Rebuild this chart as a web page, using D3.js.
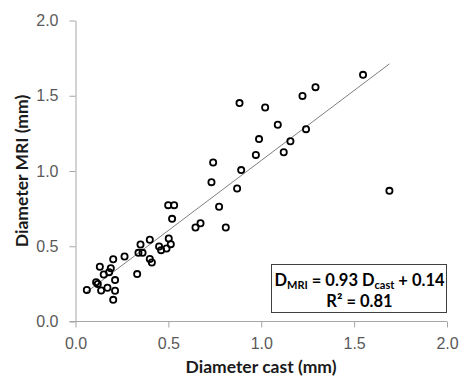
<!DOCTYPE html>
<html>
<head>
<meta charset="utf-8">
<script src="https://cdn.jsdelivr.net/npm/d3@7"></script>
<style>
  body { margin: 0; background: #fff; }
  svg { font-family: Lato, "Open Sans", sans-serif; }
</style>
</head>
<body>
<svg id="chart" width="460" height="377"></svg>
<script>
// values
const castDiameter = [
  0.061, 0.111, 0.120, 0.131, 0.138, 0.152, 0.172, 0.181, 0.190, 0.203,
  0.203, 0.213, 0.213, 0.264, 0.332, 0.339, 0.350, 0.361, 0.400, 0.400,
  0.411, 0.450, 0.461, 0.490, 0.502, 0.513, 0.499, 0.531, 0.520, 0.646,
  0.673, 0.732, 0.741, 0.773, 0.809, 0.870, 0.883, 0.892, 0.971, 0.988,
  1.021, 1.089, 1.121, 1.157, 1.222, 1.241, 1.292, 1.548, 1.690
];
const mriDiameter = [
  0.210, 0.261, 0.250, 0.364, 0.206, 0.312, 0.224, 0.328, 0.354, 0.414,
  0.144, 0.275, 0.204, 0.432, 0.315, 0.456, 0.512, 0.456, 0.543, 0.416,
  0.392, 0.498, 0.474, 0.485, 0.551, 0.514, 0.773, 0.773, 0.682, 0.625,
  0.653, 0.926, 1.056, 0.762, 0.625, 0.884, 1.451, 1.006, 1.107, 1.212,
  1.422, 1.307, 1.125, 1.198, 1.499, 1.278, 1.557, 1.639, 0.868
];
const xTicks = [0, 0.5, 1.0, 1.5, 2.0];
const yTicks = [0, 0.5, 1.0, 1.5, 2.0];
const fitSlope = 0.93;
const fitIntercept = 0.14;
const rSquared = 0.81;

const svg = d3.select('#chart');

const x = d3.scaleLinear().domain([0, 2]).range([75.5, 447]);
const y = d3.scaleLinear().domain([0, 2]).range([321.5, 20.5]);

const axisColor = '#a6a6a6';
const labelColor = '#595959';

// x axis
const xAxis = svg
  .append('g')
  .attr('transform', `translate(0,${y(0)})`)
  .call(d3.axisBottom(x).tickValues(xTicks).tickFormat(d3.format('.1f')).tickSize(6).tickSizeOuter(0).tickPadding(10));
xAxis.select('.domain').attr('stroke', axisColor).attr('d', `M${x(0) - 6},0H${x(2)}`);
xAxis.selectAll('.tick line').attr('stroke', axisColor);
xAxis.selectAll('.tick text').attr('fill', labelColor).attr('font-size', 16);

// y axis
const yAxis = svg
  .append('g')
  .attr('transform', `translate(${x(0)},0)`)
  .call(d3.axisLeft(y).tickValues(yTicks).tickFormat(d3.format('.1f')).tickSize(6).tickSizeOuter(0).tickPadding(11));
yAxis.select('.domain').attr('stroke', axisColor);
yAxis.selectAll('.tick line').attr('stroke', axisColor);
yAxis.selectAll('.tick text').attr('fill', labelColor).attr('font-size', 16);

// axis titles
svg
  .append('text')
  .attr('x', 261)
  .attr('y', 373)
  .attr('text-anchor', 'middle')
  .attr('font-size', 17.5)
  .attr('font-weight', 'bold')
  .attr('fill', '#1a1a1a')
  .text('Diameter cast (mm)');

svg
  .append('text')
  .attr('transform', `translate(27.5,171) rotate(-90)`)
  .attr('text-anchor', 'middle')
  .attr('font-size', 17.5)
  .attr('font-weight', 'bold')
  .attr('fill', '#1a1a1a')
  .text('Diameter MRI (mm)');

// regression line across the data range
const [xMin, xMax] = d3.extent(castDiameter);
svg
  .append('line')
  .attr('x1', x(xMin))
  .attr('y1', y(fitSlope * xMin + fitIntercept))
  .attr('x2', x(xMax))
  .attr('y2', y(fitSlope * xMax + fitIntercept))
  .attr('stroke', '#7f7f7f')
  .attr('stroke-width', 1);

// points
const points = castDiameter.map((d, i) => ({ cast: d, mri: mriDiameter[i] }));
svg
  .append('g')
  .selectAll('circle')
  .data(points)
  .enter()
  .append('circle')
  .attr('cx', (d) => x(d.cast))
  .attr('cy', (d) => y(d.mri))
  .attr('r', 3.1)
  .attr('fill', 'none')
  .attr('stroke', '#000')
  .attr('stroke-width', 1.8);

// equation box
const box = svg.append('g');
box
  .append('rect')
  .attr('x', 271.5)
  .attr('y', 264.5)
  .attr('width', 175)
  .attr('height', 48)
  .attr('fill', '#fff')
  .attr('stroke', '#404040')
  .attr('stroke-width', 1);

const eq = box
  .append('text')
  .attr('x', 359.5)
  .attr('y', 286)
  .attr('text-anchor', 'middle')
  .attr('font-size', 16.5)
  .attr('font-weight', 'bold')
  .attr('fill', '#000');
eq.append('tspan').text('D');
eq.append('tspan').attr('font-size', 11).attr('dy', 3).text('MRI');
eq.append('tspan').attr('dy', -3).text(` = ${fitSlope} D`);
eq.append('tspan').attr('font-size', 11).attr('dy', 3).text('cast');
eq.append('tspan').attr('dy', -3).text(` + ${fitIntercept}`);

box
  .append('text')
  .attr('x', 359.5)
  .attr('y', 306.5)
  .attr('text-anchor', 'middle')
  .attr('font-size', 16.5)
  .attr('font-weight', 'bold')
  .attr('fill', '#000')
  .text(`R² = ${rSquared}`);
</script>
</body>
</html>
